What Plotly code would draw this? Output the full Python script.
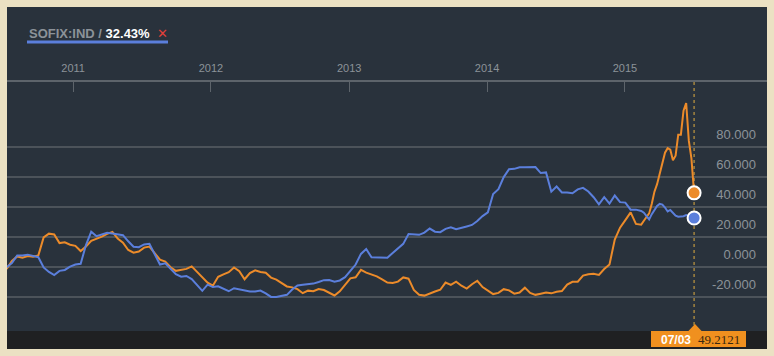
import plotly.graph_objects as go

# ---------------- data ----------------
dates = [
    "2010-07-09", "2010-07-23", "2010-08-06", "2010-08-20", "2010-09-03", "2010-09-17", "2010-10-01",
    "2010-10-15", "2010-10-29", "2010-11-12", "2010-11-26", "2010-12-10", "2010-12-24",
    "2011-01-07", "2011-01-21", "2011-02-04", "2011-02-18", "2011-03-04", "2011-03-18", "2011-04-01",
    "2011-04-15", "2011-04-29", "2011-05-13", "2011-05-27", "2011-06-10", "2011-06-24", "2011-07-08",
    "2011-07-22", "2011-08-05", "2011-08-19", "2011-09-02", "2011-09-16", "2011-09-30", "2011-10-14",
    "2011-10-28", "2011-11-11", "2011-11-25", "2011-12-09", "2011-12-23",
    "2012-01-06", "2012-01-20", "2012-02-03", "2012-02-17", "2012-03-02", "2012-03-16", "2012-03-30",
    "2012-04-13", "2012-04-27", "2012-05-11", "2012-05-25", "2012-06-08", "2012-06-22", "2012-07-06",
    "2012-07-20", "2012-08-03", "2012-08-17", "2012-08-31", "2012-09-14", "2012-09-28", "2012-10-12",
    "2012-10-26", "2012-11-09", "2012-11-23", "2012-12-07", "2012-12-21",
    "2013-01-04", "2013-01-18", "2013-02-01", "2013-02-15", "2013-03-01", "2013-03-15", "2013-03-29",
    "2013-04-12", "2013-04-26", "2013-05-10", "2013-05-24", "2013-06-07", "2013-06-21", "2013-07-05",
    "2013-07-19", "2013-08-02", "2013-08-16", "2013-08-30", "2013-09-13", "2013-09-27", "2013-10-11",
    "2013-10-25", "2013-11-08", "2013-11-22", "2013-12-06", "2013-12-20",
    "2014-01-03", "2014-01-17", "2014-01-31", "2014-02-14", "2014-02-28", "2014-03-14", "2014-03-28",
    "2014-04-11", "2014-04-25", "2014-05-09", "2014-05-23", "2014-06-06", "2014-06-20", "2014-07-04",
    "2014-07-18", "2014-08-01", "2014-08-15", "2014-08-29", "2014-09-12", "2014-09-26", "2014-10-10",
    "2014-10-24", "2014-11-07", "2014-11-21", "2014-12-05", "2014-12-19",
    "2015-01-02", "2015-01-16", "2015-01-30", "2015-02-13", "2015-02-20", "2015-02-27", "2015-03-06",
    "2015-03-13", "2015-03-20", "2015-03-27", "2015-04-03", "2015-04-10", "2015-04-17", "2015-04-24",
    "2015-05-01", "2015-05-08", "2015-05-15", "2015-05-22", "2015-05-29", "2015-06-05", "2015-06-12",
    "2015-06-19", "2015-06-26", "2015-07-03",
]

sofix_pct = [
    -0.4, 2.4, 7.5, 7.4, 8.0, 7.4, 6.3, -0.5, -3.5, -5.6, -2.8, -2.2, 0.0,
    1.4, 1.9, 14.4, 23.3, 20.3, 21.7, 22.6, 22.1, 21.8, 21.0, 16.9, 13.3, 13.0, 14.8,
    15.2, 8.7, 1.4, 2.2, -1.3, -5.0, -6.7, -6.2, -8.3, -12.5, -16.1, -12.0,
    -13.6, -13.1, -14.5, -16.4, -14.4, -15.1, -15.8, -16.6, -16.6, -15.9, -17.8, -20.2, -20.3, -19.7,
    -18.8, -15.2, -12.5, -12.0, -11.9, -11.3, -10.2, -9.0, -8.9, -10.0, -9.2, -7.0,
    -2.8, 1.4, 8.5, 11.8, 6.2, 6.0, 6.0, 6.0, 9.1, 12.2, 15.2, 21.8, 21.4, 21.2,
    22.7, 25.4, 23.3, 23.0, 25.2, 26.2, 24.9, 26.1, 26.8, 27.8, 30.4, 33.7,
    36.2, 48.4, 51.6, 59.7, 64.9, 65.2, 66.3, 66.2, 66.3, 66.4, 62.4, 62.8, 50.0, 53.4,
    49.5, 49.5, 48.9, 51.5, 52.5, 50.1, 46.3, 41.6, 46.4, 42.0, 47.4, 43.0,
    42.7, 38.0, 38.0, 37.1, 36.0, 33.5, 31.5, 35.0, 38.1, 40.5, 41.8, 41.4, 39.4, 36.8,
    37.8, 36.0, 34.0, 33.3, 33.3, 33.6, 34.4, 33.5, 33.0, 32.43,
]

compare_pct = [
    -1.5, 3.8, 6.8, 6.0, 7.1, 6.6, 7.5, 19.5, 22.0, 21.5, 15.7, 16.2, 14.6,
    13.9, 10.4, 13.4, 17.2, 18.5, 20.0, 21.9, 23.2, 18.8, 16.0, 11.1, 9.3, 10.1, 12.7,
    13.4, 8.7, 4.6, 3.4, -0.4, -2.8, -2.2, -1.5, 0.2, -3.3, -6.9, -10.7,
    -12.7, -6.8, -5.1, -3.7, -0.6, -3.1, -8.4, -4.3, -2.4, -3.6, -4.1, -7.3, -8.6, -10.9,
    -13.2, -13.8, -15.0, -17.7, -16.0, -16.4, -14.9, -15.6, -17.4, -19.2, -16.5, -11.9,
    -7.8, -7.1, -2.1, -4.0, -5.3, -6.5, -8.5, -10.6, -10.9, -10.0, -7.2, -8.0, -15.5, -18.7,
    -19.3, -18.2, -16.6, -15.4, -10.6, -12.2, -10.0, -12.7, -14.6, -11.7, -9.4, -13.6,
    -16.0, -18.3, -17.5, -15.0, -15.8, -18.0, -17.3, -14.0, -17.5, -18.8, -18.0, -17.3, -17.8, -16.7,
    -16.3, -12.0, -10.1, -10.0, -6.0, -5.1, -4.8, -5.5, -1.6, 1.5, 18.0, 26.0,
    31.0, 36.2, 28.5, 28.0, 30.6, 33.0, 35.5, 42.0, 50.0, 55.0, 62.0, 70.0, 76.0, 79.0,
    78.0, 71.0, 74.0, 88.0, 88.0, 104.0, 109.0, 84.0, 72.0, 49.2121,
]

year_ticks = ["2011-01-01", "2012-01-01", "2013-01-01", "2014-01-01", "2015-01-01"]
year_labels = ["2011", "2012", "2013", "2014", "2015"]
y_ticks = [-20, 0, 20, 40, 60, 80]
y_labels = ["-20.000", "0.000", "20.000", "40.000", "60.000", "80.000"]
ticker = "SOFIX:IND"
last_label = "07/03"

# ---------------- styling ----------------
W, H = 774, 356
ML, MR, MT, MB = 7, 7, 82, 25
PW, PH = W - ML - MR, H - MT - MB

def px(x):
    return (x - ML) / PW

def py(y):
    return (H - MB - y) / PH

PANEL = "#29323c"
GRID = "#4c535a"
TXT = "#8c9299"
ORANGE = "#ec8b2a"
BLUE = "#5b7fdc"

fig = go.Figure()
fig.add_trace(go.Scatter(x=dates, y=compare_pct, mode="lines",
                         line=dict(color=ORANGE, width=2), hoverinfo="skip"))
fig.add_trace(go.Scatter(x=dates, y=sofix_pct, mode="lines",
                         line=dict(color=BLUE, width=2), hoverinfo="skip"))
fig.add_trace(go.Scatter(x=[dates[-1]], y=[compare_pct[-1]], mode="markers",
                         marker=dict(color=ORANGE, size=13, line=dict(color="white", width=2)),
                         hoverinfo="skip"))
fig.add_trace(go.Scatter(x=[dates[-1]], y=[sofix_pct[-1]], mode="markers",
                         marker=dict(color=BLUE, size=13, line=dict(color="white", width=2)),
                         hoverinfo="skip"))

shapes = [
    dict(type="rect", xref="paper", yref="paper", x0=0, x1=1, y0=py(349), y1=py(7),
         fillcolor=PANEL, line=dict(width=0), layer="below"),
    dict(type="rect", xref="paper", yref="paper", x0=0, x1=1, y0=py(349), y1=0,
         fillcolor="#1f2022", line=dict(width=0), layer="below"),
    dict(type="line", xref="x", yref="paper", x0=dates[-1], x1=dates[-1], y0=py(325), y1=1,
         line=dict(color="#a3843f", width=1.5, dash="dot"), layer="below"),
    dict(type="line", xref="paper", yref="paper", x0=px(27), x1=px(168), y0=py(42), y1=py(42),
         line=dict(color=BLUE, width=3)),
    dict(type="rect", xref="paper", yref="paper", x0=px(651), x1=px(746), y0=py(347), y1=py(331),
         fillcolor="#f0901f", line=dict(width=0)),
    dict(type="path", xref="paper", yref="paper",
         path=f"M {px(688)} {py(331.5)} L {px(702)} {py(331.5)} L {px(695)} {py(324)} Z",
         fillcolor="#f0901f", line=dict(width=0)),
]

annotations = [
    dict(xref="paper", yref="paper", x=px(27), y=py(33), xanchor="left", yanchor="middle",
         showarrow=False,
         text=f"<b>{ticker} / </b><b><span style='color:#ffffff'>{sofix_pct[-1]:.2f}%</span></b>",
         font=dict(family="Liberation Sans, Arial", size=13, color=TXT)),
    dict(xref="paper", yref="paper", x=px(162), y=py(33), xanchor="center", yanchor="middle",
         showarrow=False, text="✕", font=dict(family="DejaVu Sans", size=13, color="#e0403a")),
    dict(xref="paper", yref="paper", x=px(676), y=py(339.5), xanchor="center", yanchor="middle",
         showarrow=False, text=f"<b>{last_label}</b>",
         font=dict(family="Liberation Sans, Arial", size=12, color="#ffffff")),
    dict(xref="paper", yref="paper", x=px(719), y=py(339.5), xanchor="center", yanchor="middle",
         showarrow=False, text=f"{compare_pct[-1]:.4f}",
         font=dict(family="Liberation Serif, Georgia, serif", size=13, color="#3a2810")),
]

fig.update_layout(
    width=W, height=H,
    margin=dict(l=ML, r=MR, t=MT, b=MB, pad=0),
    paper_bgcolor="#ebe1c3",
    plot_bgcolor=PANEL,
    showlegend=False,
    shapes=shapes,
    annotations=annotations,
    xaxis=dict(
        type="date", side="top", range=["2010-07-10", "2016-01-12"],
        tickvals=year_ticks, ticktext=year_labels,
        ticks="inside", ticklen=10, tickwidth=1, tickcolor="#5d646b",
        showline=True, linecolor="#5d646b", linewidth=2,
        showgrid=False, zeroline=False,
        tickfont=dict(family="Liberation Sans, Arial", size=11, color=TXT),
        ticklabelstandoff=4,
    ),
    yaxis=dict(
        side="right", range=[-42.9, 123.1],
        tickvals=y_ticks, ticktext=y_labels,
        ticklabelposition="inside", ticklabelshift=-12, ticklabelstandoff=8,
        showgrid=True, gridcolor=GRID, gridwidth=2,
        zeroline=False, showline=False, ticks="",
        tickfont=dict(family="Liberation Sans, Arial", size=13, color=TXT),
    ),
)

fig.write_html(
    "out.html",
    config={"displayModeBar": False},
    post_script="document.body.style.margin='0';document.body.style.overflow='hidden';",
)
